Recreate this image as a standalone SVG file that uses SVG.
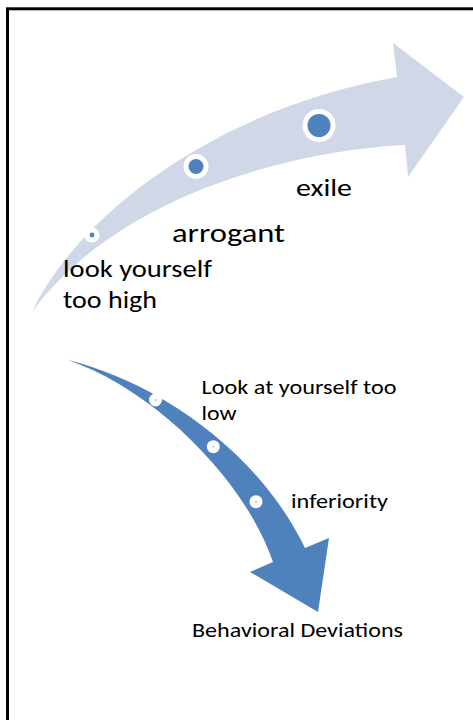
<svg xmlns="http://www.w3.org/2000/svg" width="473" height="720" viewBox="0 0 473 720">
<style>
.t{font-family:"Calibri","Carlito","Open Sans",sans-serif;fill:#000}
.up{font-size:24px}
.ex{font-size:25px}
.ar{font-size:27.5px}
.lo{font-size:21px}
.ring{fill:#fff}
.dot{fill:#4f81bd}
.dotl{fill:#a9bfdc}
</style>
<rect x="0" y="0" width="473" height="720" fill="#fff"/>
<rect id="frame" x="7.5" y="8.8" width="480" height="730" fill="none" stroke="#000" stroke-width="3"/>
<g id="connectors">
<path id="arrow-up" d="M32,312 C75,220 210,110 397,77 L393,43 L464,97 L408,177 L405,145 C300,150 120,192 32,312 Z" fill="#d0d8e8"/>
<path id="arrow-down" d="M68,360 C150,380 255,445 305,548 L329,538 L318,612 L250,572 L273,562 C245,480 155,390 68,360 Z" fill="#4f81bd"/>
</g>
<g id="node-high">
<circle class="ring" cx="92" cy="235" r="7.5"/>
<circle class="dot" cx="92" cy="235" r="2.4"/>
<text class="t up" x="63" y="277" textLength="149" lengthAdjust="spacingAndGlyphs">look yourself</text>
<text class="t up" x="63" y="307.5" textLength="94" lengthAdjust="spacingAndGlyphs">too high</text>
</g>
<g id="node-arrogant">
<circle class="ring" cx="196" cy="166.5" r="12.5"/>
<circle class="dot" cx="196" cy="166.5" r="7.5"/>
<text class="t ar" x="172" y="241.7" textLength="113" lengthAdjust="spacingAndGlyphs">arrogant</text>
</g>
<g id="node-exile">
<circle class="ring" cx="319" cy="125.5" r="16.5"/>
<circle class="dot" cx="319" cy="125.5" r="11.5"/>
<text class="t ex" x="296" y="196" textLength="56" lengthAdjust="spacingAndGlyphs">exile</text>
</g>
<g id="node-low">
<circle class="ring" cx="155.5" cy="400" r="6.5"/>
<circle class="dotl" cx="155.5" cy="400" r="1"/>
<text class="t lo" x="201.5" y="394" textLength="195" lengthAdjust="spacingAndGlyphs">Look at yourself too</text>
<text class="t lo" x="201.5" y="420" textLength="35" lengthAdjust="spacingAndGlyphs">low</text>
</g>
<g id="node-mid">
<circle class="ring" cx="213.3" cy="446.7" r="6.5"/>
<circle class="dotl" cx="213.3" cy="446.7" r="1"/>
</g>
<g id="node-inferiority">
<circle class="ring" cx="256" cy="501.7" r="6.5"/>
<circle class="dotl" cx="256" cy="501.7" r="1"/>
<text class="t lo" x="291" y="508.3" textLength="97" lengthAdjust="spacingAndGlyphs">inferiority</text>
</g>
<g id="node-deviations">
<text class="t lo" x="192" y="636.7" textLength="211" lengthAdjust="spacingAndGlyphs">Behavioral Deviations</text>
</g>
</svg>
